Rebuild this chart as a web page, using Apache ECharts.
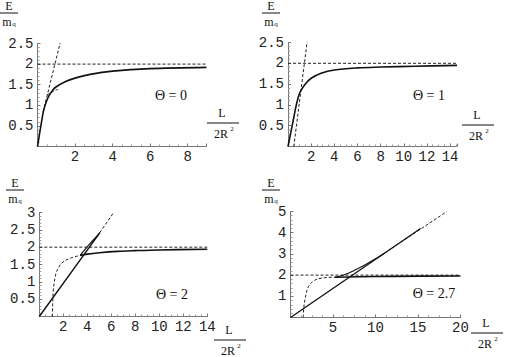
<!doctype html>
<html>
<head>
	<meta charset="UTF-8">
	<title>E / mq</title>
	<script src="https://cdn.jsdelivr.net/npm/echarts@6/dist/echarts.min.js"></script>
	<style>
		html, body { margin: 0; padding: 0; background: #fff; }
		#chart { width: 509px; height: 357px; }
	</style>
</head>
<body>
<div id="chart"></div>
<script>
	// panel ranges
	var xMax = [9, 14.6, 14, 20];
	var xStep = [2, 2, 2, 5];
	var yMax = [2.5, 2.5, 3, 5];
	var yStep = [0.5, 0.5, 0.5, 1];
	var thetaLabels = ["Θ = 0", "Θ = 1", "Θ = 2", "Θ = 2.7"];

	// Θ = 0
	var p1Solid = [[0, 0], [0.15, 0.42], [0.31, 0.84], [0.45, 1.06], [0.6, 1.22], [0.8, 1.36], [1.0, 1.45], [1.5, 1.58], [2, 1.66], [2.8, 1.75], [4, 1.83], [6, 1.89], [9, 1.92]];
	var p1Steep = [[0.3, 0.84], [1.23, 2.56]];
	var p1Spur = [[0.5, 1.25], [0.8, 1.33], [1.1, 1.39]];
	var p1Level = [[0, 2], [9, 2]];

	// Θ = 1
	var p2Solid = [[0, 0], [0.43, 0.6], [0.72, 1.0], [1.0, 1.28], [1.43, 1.48], [2, 1.64], [2.86, 1.76], [4, 1.84], [6, 1.89], [8, 1.91], [11, 1.93], [14.6, 1.95]];
	var p2Steep = [[0.5, 0], [1.66, 2.53]];
	var p2Level = [[0, 2], [14.6, 2]];

	// Θ = 2
	var p3Line = [[0, 0], [5.05, 2.42]];
	var p3LineDash = [[4.8, 2.3], [6.2, 3.0]];
	var p3Upper = [[3.4, 1.76], [3.8, 1.93], [4.3, 2.13], [4.7, 2.28], [5.05, 2.42]];
	var p3Flat = [[3.4, 1.76], [4, 1.8], [5, 1.84], [6.5, 1.88], [8, 1.9], [10, 1.92], [14, 1.94]];
	var p3Curve = [[1.1, 0], [1.12, 0.4], [1.17, 0.77], [1.3, 1.1], [1.45, 1.3], [1.87, 1.54], [2.56, 1.68], [3.4, 1.76]];
	var p3Level = [[0, 2], [14, 2]];

	// Θ = 2.7
	var p4Line = [[0, 0], [15.3, 4.2]];
	var p4LineDash = [[11, 3.02], [18.4, 5.0]];
	var p4Upper = [[5.2, 1.9], [6, 1.97], [7, 2.12], [8, 2.32], [9, 2.54], [10, 2.77], [11, 3.02]];
	var p4Flat = [[5.2, 1.9], [8, 1.92], [12, 1.94], [20, 1.96]];
	var p4Curve = [[1.5, 0], [1.55, 0.4], [1.7, 0.83], [2.1, 1.45], [2.9, 1.77], [4.06, 1.88], [5.2, 1.9]];
	var p4Level = [[0, 2], [20, 2]];

	var grids = [
		{left: 37.5, top: 43.5, width: 169, height: 103},
		{left: 288, top: 42.5, width: 169, height: 104},
		{left: 39.3, top: 212.5, width: 168, height: 104},
		{left: 290.5, top: 211.5, width: 170, height: 106}
	];

	var axisCol = "#777";
	var mono = "Liberation Mono";
	var serif = "Liberation Serif";

	function makeX(i) {
		return {
			type: "value", gridIndex: i, min: 0, max: xMax[i], interval: xStep[i],
			axisLine: {show: true, onZero: false, lineStyle: {color: axisCol, width: 1}},
			axisTick: {show: true, inside: true, length: 3, lineStyle: {color: axisCol}},
			minorTick: {show: true, splitNumber: 4, length: 2, lineStyle: {color: "#999"}},
			splitLine: {show: false},
			axisLabel: {
				margin: 3, color: "#222", fontFamily: mono, fontSize: 14,
				formatter: function (v) {
					if (v === 0 || Math.abs(v / xStep[i] - Math.round(v / xStep[i])) > 1e-6) return "";
					return String(v);
				}
			}
		};
	}

	function makeY(i) {
		return {
			type: "value", gridIndex: i, min: 0, max: yMax[i], interval: yStep[i],
			axisLine: {show: true, onZero: false, lineStyle: {color: axisCol, width: 1}},
			axisTick: {show: true, inside: true, length: 3, lineStyle: {color: axisCol}},
			minorTick: {show: true, splitNumber: 5, length: 2, lineStyle: {color: "#999"}},
			splitLine: {show: false},
			axisLabel: {
				margin: 4, color: "#222", fontFamily: mono, fontSize: 14,
				formatter: function (v) { return v === 0 ? "" : String(v); }
			}
		};
	}

	function solid(i, data, w, smooth) {
		return {type: "line", xAxisIndex: i, yAxisIndex: i, data: data, symbol: "none", smooth: smooth || false,
			lineStyle: {color: "#111", width: w || 1.6, type: "solid"}, silent: true, animation: false};
	}
	function dashed(i, data, smooth) {
		return {type: "line", xAxisIndex: i, yAxisIndex: i, data: data, symbol: "none", smooth: smooth || false,
			lineStyle: {color: "#222", width: 1, type: [3, 2]}, silent: true, animation: false};
	}

	var series = [
		dashed(0, p1Level), dashed(0, p1Steep), dashed(0, p1Spur, 0.3), solid(0, p1Solid, 1.6, 0.3),
		dashed(1, p2Level), dashed(1, p2Steep), solid(1, p2Solid, 1.6, 0.35),
		dashed(2, p3Level), dashed(2, p3LineDash), dashed(2, p3Curve, 0.35),
		solid(2, p3Flat, 1.6, 0.35), solid(2, p3Upper, 1.2, 0.3), solid(2, p3Line, 1.4),
		dashed(3, p4Level), dashed(3, p4LineDash), dashed(3, p4Curve, 0.35),
		solid(3, p4Flat, 1.6, 0.3), solid(3, p4Upper, 1.1, 0.3), solid(3, p4Line, 1.3)
	];

	// fraction labels E/mq and L/2R^2
	var yFrac = [[9, 5], [271, 5], [15, 182], [271, 182]];
	var xFrac = [[223, 113], [478, 115], [230, 330], [487, 323]];
	var thetaPos = [[171, 95], [429, 95], [172, 294], [434, 293]];
	var graphic = [];
	function txt(x, y, s, size, extra) {
		var st = {x: x, y: y, text: s, fontFamily: serif, fontSize: size, fill: "#111", textAlign: "center", textVerticalAlign: "middle"};
		for (var k in extra) st[k] = extra[k];
		return {type: "text", silent: true, style: st};
	}
	function bar(x1, x2, y) {
		return {type: "line", silent: true, shape: {x1: x1, y1: y, x2: x2, y2: y}, style: {stroke: "#111", lineWidth: 1}};
	}
	for (var i = 0; i < 4; i++) {
		var f = yFrac[i];
		graphic.push(txt(f[0], f[1] + 1, "E", 12));
		graphic.push(bar(f[0] - 9, f[0] + 9, f[1] + 8));
		graphic.push(txt(f[0] - 2, f[1] + 17, "m", 12));
		graphic.push(txt(f[0] + 5, f[1] + 19, "q", 7));
		var g = xFrac[i];
		graphic.push(txt(g[0] - 1, g[1], "L", 12));
		graphic.push(bar(g[0] - 16, g[0] + 16, g[1] + 10));
		graphic.push(txt(g[0] - 2, g[1] + 21, "2R", 12));
		graphic.push(txt(g[0] + 9, g[1] + 16, "2", 7));
		var t = thetaPos[i];
		graphic.push(txt(t[0], t[1], thetaLabels[i], 14));
	}

	var chart = echarts.init(document.getElementById("chart"), null, {renderer: "svg"});
	chart.setOption({
		animation: false,
		grid: grids,
		xAxis: [makeX(0), makeX(1), makeX(2), makeX(3)],
		yAxis: [makeY(0), makeY(1), makeY(2), makeY(3)],
		series: series,
		graphic: graphic
	});
</script>
</body>
</html>
